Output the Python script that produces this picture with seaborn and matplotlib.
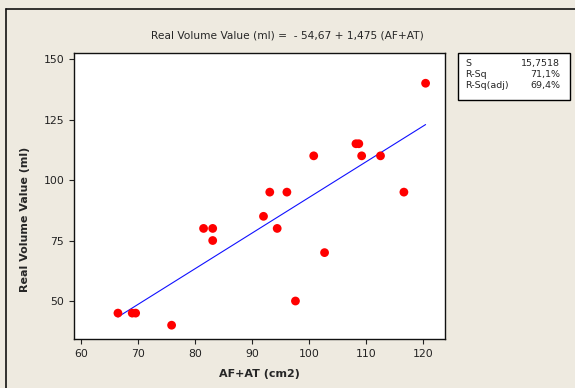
import numpy as np
import pandas as pd
import seaborn as sns
import matplotlib.pyplot as plt
from matplotlib.patches import Rectangle
from matplotlib.lines import Line2D

# data
af_at = [66.5, 69.0, 69.6, 75.9, 81.5, 83.1, 83.1, 92.0, 93.1, 94.4,
         96.1, 97.6, 100.8, 102.7, 108.2, 108.7, 109.2, 112.5, 116.6, 120.4]
volume = [45, 45, 45, 40, 80, 80, 75, 85, 95, 80,
          95, 50, 110, 70, 115, 115, 110, 110, 95, 140]

# fitted line from the title equation
intercept = -54.67
slope = 1.475

stat_names = ['S', 'R-Sq', 'R-Sq(adj)']
stat_values = ['15,7518', '71,1%', '69,4%']

df = pd.DataFrame({'AF+AT': af_at, 'Volume': volume})

sns.set_style('ticks')
plt.rcParams['font.family'] = ['DejaVu Sans']

bg = '#EEEAE0'
fig = plt.figure(figsize=(5.75, 3.88), dpi=100, facecolor=bg)
ax = fig.add_axes([0.1287, 0.1263, 0.6452, 0.7371])
ax.set_facecolor('white')

# regression line over the data range
xs = np.array([min(af_at), max(af_at)])
line_df = pd.DataFrame({'x': xs, 'y': intercept + slope * xs})
sns.lineplot(data=line_df, x='x', y='y', ax=ax, color='#1010ff', linewidth=0.8)

sns.scatterplot(data=df, x='AF+AT', y='Volume', ax=ax, color='#ff0000',
                s=40, edgecolor='none', zorder=3)

ax.set_xlim(58.8, 123.8)
ax.set_ylim(34.3, 152.5)
ax.set_xticks([60, 70, 80, 90, 100, 110, 120])
ax.set_yticks([50, 75, 100, 125, 150])
ax.tick_params(labelsize=7.8, length=3.5, width=0.8, colors='#222222')
for sp in ax.spines.values():
    sp.set_visible(True)
    sp.set_color('#111111')
    sp.set_linewidth(1.0)

ax.set_xlabel('AF+AT (cm2)', fontsize=8, fontweight='bold')
ax.set_ylabel('Real Volume Value (ml)', fontsize=8, fontweight='bold')
ax.yaxis.set_label_coords(-0.119, 0.42)
ax.xaxis.set_label_coords(0.5, -0.105)

fig.text(0.5, 1 - 35 / 388, 'Real Volume Value (ml) =  - 54,67 + 1,475 (AF+AT)',
         ha='center', va='center', fontsize=7.7)

# stats box
fig.patches.append(Rectangle((0.7965, 0.7423), 0.1948, 0.1211, transform=fig.transFigure,
                             facecolor='white', edgecolor='black', linewidth=1.0))
for i, (n, v) in enumerate(zip(stat_names, stat_values)):
    yy = 0.8376 - i * 0.0284
    fig.text(0.8087, yy, n, ha='left', va='center', fontsize=6.8)
    fig.text(0.974, yy, v, ha='right', va='center', fontsize=6.8)

# outer frame (left and top edges visible)
fig.lines.append(Line2D([0.0104, 0.0104], [0, 0.9768], transform=fig.transFigure,
                        color='#111111', linewidth=1.2))
fig.lines.append(Line2D([0.0104, 1.0], [0.9768, 0.9768], transform=fig.transFigure,
                        color='#111111', linewidth=1.2))

fig.savefig('out.png', dpi=100, facecolor=bg)
